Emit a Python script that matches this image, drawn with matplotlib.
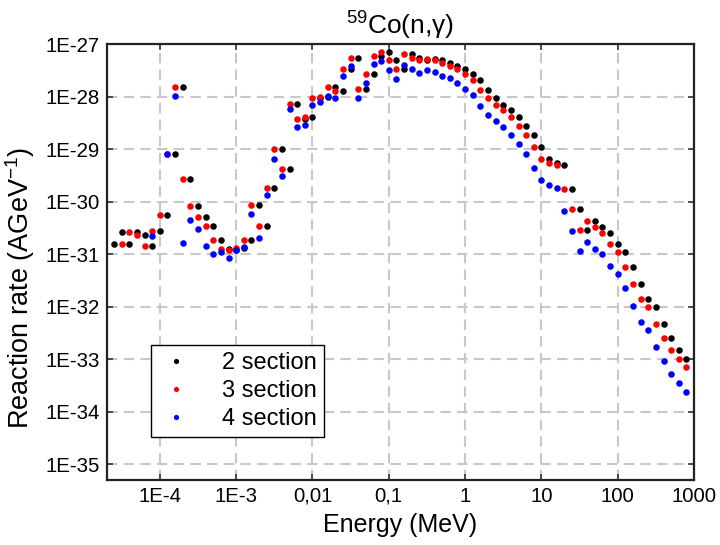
import numpy as np
import matplotlib
matplotlib.use("Agg")
import matplotlib.pyplot as plt
from matplotlib.ticker import FixedLocator, FixedFormatter, NullLocator

plt.rcParams['font.family'] = ['Liberation Sans', 'DejaVu Sans']
plt.rcParams['mathtext.fontset'] = 'custom'
plt.rcParams['mathtext.rm'] = 'Liberation Sans'
plt.rcParams['mathtext.it'] = 'Liberation Sans:italic'

# log10 of energy (MeV) and log10 of reaction rate
loge_2 = [-4.6, -4.5, -4.4, -4.3, -4.2, -4.1, -4.0, -3.9, -3.8, -3.7, -3.6, -3.5, -3.4,
          -3.3, -3.2, -3.1, -3.0, -2.9, -2.8, -2.7, -2.6, -2.5, -2.4, -2.3, -2.2, -2.1,
          -2.0, -1.9, -1.8, -1.7, -1.6, -1.5, -1.4, -1.3, -1.2, -1.1, -1.0, -0.9, -0.8,
          -0.7, -0.6, -0.5, -0.4, -0.3, -0.2, -0.1, 0.0, 0.1, 0.2, 0.3, 0.4, 0.5, 0.6,
          0.7, 0.8, 0.9, 1.0, 1.1, 1.2, 1.3, 1.4, 1.5, 1.6, 1.7, 1.8, 1.9, 2.0, 2.1,
          2.2, 2.3, 2.4, 2.5, 2.6, 2.7, 2.8, 2.9]
logr_2 = [-30.81, -30.58, -30.81, -30.58, -30.63, -30.84, -30.55, -30.25, -29.09, -27.81,
          -29.56, -30.08, -30.30, -30.47, -30.73, -30.90, -30.92, -30.89, -30.73, -30.07,
          -30.46, -29.73, -29.00, -29.37, -28.13, -28.43, -28.38, -28.02, -28.00, -27.82,
          -27.89, -27.47, -27.26, -27.86, -27.57, -27.23, -27.14, -27.31, -27.47, -27.19,
          -27.26, -27.30, -27.28, -27.30, -27.36, -27.41, -27.48, -27.57, -27.68, -27.88,
          -28.02, -28.15, -28.25, -28.38, -28.55, -28.73, -28.96, -29.18, -29.27, -29.31,
          -29.75, -30.14, -30.53, -30.36, -30.48, -30.60, -30.80, -30.96, -31.24, -31.56,
          -31.86, -32.01, -32.32, -32.60, -32.82, -33.00]

loge_3 = [-4.5, -4.4, -4.3, -4.2, -4.1, -4.0, -3.9, -3.8, -3.7, -3.6, -3.5, -3.4,
          -3.3, -3.2, -3.1, -3.0, -2.9, -2.8, -2.7, -2.6, -2.5, -2.4, -2.3, -2.2, -2.1,
          -2.0, -1.9, -1.8, -1.7, -1.6, -1.5, -1.4, -1.3, -1.2, -1.1, -1.0, -0.9, -0.8,
          -0.7, -0.6, -0.5, -0.4, -0.3, -0.2, -0.1, 0.0, 0.1, 0.2, 0.3, 0.4, 0.5, 0.6,
          0.7, 0.8, 0.9, 1.0, 1.1, 1.2, 1.3, 1.4, 1.5, 1.6, 1.7, 1.8, 1.9, 2.0, 2.1,
          2.2, 2.3, 2.4, 2.5, 2.6, 2.7, 2.8, 2.9]
logr_3 = [-30.81, -30.58, -30.63, -30.84, -30.55, -30.25, -29.09, -27.81, -29.56, -30.08,
          -30.30, -30.47, -30.73, -30.90, -30.92, -30.89, -30.73, -30.07, -30.46, -29.73,
          -29.00, -29.37, -28.13, -28.43, -28.38, -28.02, -28.00, -27.82, -27.89, -27.47,
          -27.26, -27.86, -27.57, -27.23, -27.14, -27.31, -27.47, -27.19, -27.26, -27.30,
          -27.28, -27.30, -27.36, -27.41, -27.48, -27.57, -27.68, -27.88, -28.02, -28.15,
          -28.25, -28.38, -28.55, -28.73, -28.96, -29.18, -29.27, -29.31, -29.75, -30.14,
          -30.53, -30.36, -30.48, -30.60, -30.80, -30.96, -31.24, -31.56, -31.86, -32.01,
          -32.32, -32.60, -32.82, -33.00, -33.15]

loge_4 = [-4.1, -3.9, -3.8, -3.7, -3.6, -3.5, -3.4,
          -3.3, -3.2, -3.1, -3.0, -2.9, -2.8, -2.7, -2.6, -2.5, -2.4, -2.3, -2.2, -2.1,
          -2.0, -1.9, -1.8, -1.7, -1.6, -1.5, -1.4, -1.3, -1.2, -1.1, -1.0, -0.9, -0.8,
          -0.7, -0.6, -0.5, -0.4, -0.3, -0.2, -0.1, 0.0, 0.1, 0.2, 0.3, 0.4, 0.5, 0.6,
          0.7, 0.8, 0.9, 1.0, 1.1, 1.2, 1.3, 1.4, 1.5, 1.6, 1.7, 1.8, 1.9, 2.0, 2.1,
          2.2, 2.3, 2.4, 2.5, 2.6, 2.7, 2.8, 2.9]
logr_4 = [-30.66, -29.09, -27.98, -30.79, -30.34, -30.52, -30.84,
          -31.00, -30.96, -31.07, -30.92, -30.86, -30.23, -30.70, -29.87, -29.18, -29.51,
          -28.24, -28.57, -28.53, -28.15, -28.10, -27.98, -28.03, -27.61, -27.42, -28.03,
          -27.73, -27.38, -27.32, -27.50, -27.66, -27.39, -27.47, -27.54, -27.50, -27.52,
          -27.60, -27.65, -27.73, -27.85, -27.97, -28.18, -28.34, -28.47, -28.58, -28.73,
          -28.90, -29.10, -29.35, -29.59, -29.69, -29.74, -30.18, -30.56, -30.94, -30.77,
          -30.90, -31.00, -31.22, -31.37, -31.65, -31.99, -32.29, -32.44, -32.77, -33.03,
          -33.28, -33.46, -33.63]

xticks = [1e-4, 1e-3, 1e-2, 1e-1, 1, 10, 100, 1000]
xticklabels = ['1E-4', '1E-3', '0,01', '0,1', '1', '10', '100', '1000']
yticks = [1e-35, 1e-34, 1e-33, 1e-32, 1e-31, 1e-30, 1e-29, 1e-28, 1e-27]
yticklabels = ['1E-35', '1E-34', '1E-33', '1E-32', '1E-31', '1E-30', '1E-29', '1E-28', '1E-27']

fig = plt.figure(figsize=(7.2, 5.45), dpi=100)
ax = fig.add_axes([0.148, 0.1193, 0.816, 0.7996])

ms = 4.7
ax.plot(10 ** np.array(loge_2), 10 ** np.array(logr_2), 'o', color='black', ms=ms, mew=0, label='2 section')
ax.plot(10 ** np.array(loge_3), 10 ** np.array(logr_3), 'o', color='red', ms=ms, mew=0, label='3 section')
ax.plot(10 ** np.array(loge_4), 10 ** np.array(logr_4), 'o', color='blue', ms=ms, mew=0, label='4 section')

ax.set_xscale('log')
ax.set_yscale('log')
ax.set_xlim(10 ** -4.698, 1000)
ax.set_ylim(10 ** -35.3, 1e-27)

ax.xaxis.set_major_locator(FixedLocator(xticks))
ax.xaxis.set_major_formatter(FixedFormatter(xticklabels))
ax.yaxis.set_major_locator(FixedLocator(yticks))
ax.yaxis.set_major_formatter(FixedFormatter(yticklabels))
ax.xaxis.set_minor_locator(NullLocator())
ax.yaxis.set_minor_locator(NullLocator())

ax.tick_params(which='major', direction='in', length=4, width=1.2, labelsize=14.7,
               top=True, right=True, color='#333333')
ax.tick_params(axis='x', pad=5)
ax.tick_params(axis='y', pad=5)

ax.set_axisbelow(True)
ax.grid(True, color='#c8c8c8', lw=1.5, ls=(0, (5, 3)))

for s in ax.spines.values():
    s.set_linewidth(1.6)
    s.set_color('#222222')

ax.set_xlabel('Energy (MeV)', fontsize=18, labelpad=5)
ax.set_ylabel('Reaction rate (AGeV$^{-1}$)', fontsize=19.5)
ax.yaxis.set_label_coords(-0.119, 0.44)
ax.set_title(r'$^{59}$Co(n,γ)', fontsize=19, pad=7)

leg = ax.legend(loc='upper left', bbox_to_anchor=(0.0754, 0.31), fontsize=17,
                frameon=True, fancybox=False, edgecolor='black', framealpha=1,
                handletextpad=1.2, borderpad=0.3, labelspacing=0.25, markerscale=0.8,
                handlelength=1.5, borderaxespad=0)
leg.get_frame().set_linewidth(1.0)

fig.savefig('out.png', dpi=100)
